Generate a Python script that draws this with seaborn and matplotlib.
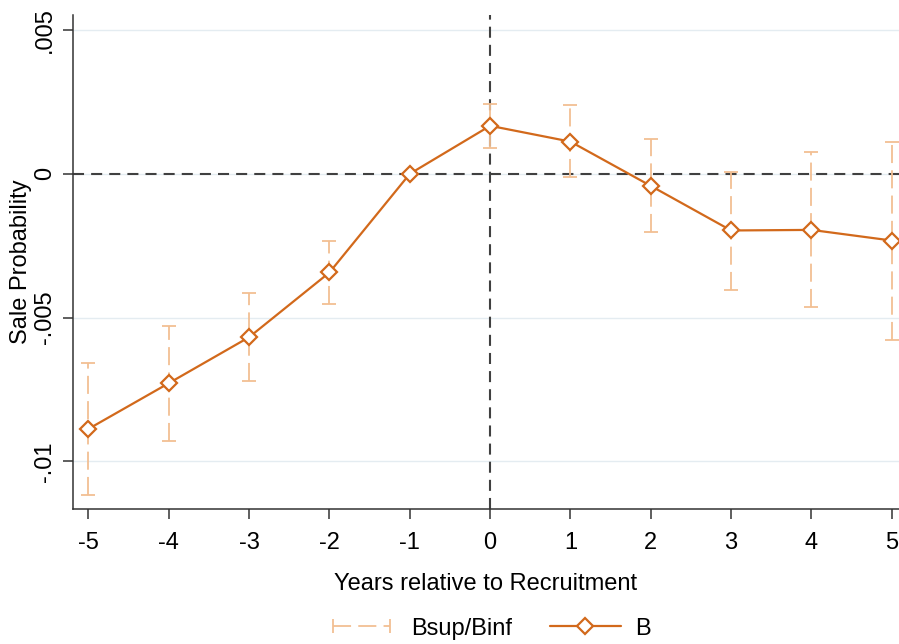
import matplotlib
matplotlib.use("Agg")
import matplotlib.pyplot as plt
import seaborn as sns
import pandas as pd
from matplotlib.lines import Line2D
from matplotlib.legend_handler import HandlerLine2D

# event-time coefficients with confidence bounds
years = [-5, -4, -3, -2, -1, 0, 1, 2, 3, 4, 5]
coef = [-0.00887, -0.00728, -0.00568, -0.00343, 0.0, 0.00167, 0.00112,
        -0.00042, -0.00197, -0.00195, -0.00232]
upper = [-0.00657, -0.00529, -0.00415, -0.00232, 0.0, 0.00244, 0.00240,
         0.00121, 0.00008, 0.00075, 0.00110]
lower = [-0.01117, -0.00929, -0.00720, -0.00453, 0.0, 0.00089, -0.00011,
         -0.00201, -0.00404, -0.00464, -0.00578]
yticks = [0.005, 0, -0.005, -0.01]
ytick_labels = [".005", "0", "-.005", "-.01"]

df = pd.DataFrame({"year": years, "B": coef, "sup": upper, "inf": lower})

sns.set_theme(style="white")
plt.rcParams["font.family"] = ["Liberation Sans", "DejaVu Sans"]
plt.rcParams["text.color"] = "black"
plt.rcParams["axes.labelcolor"] = "black"
plt.rcParams["xtick.color"] = "black"
plt.rcParams["ytick.color"] = "black"

main_col = "#d2691b"
ci_col = "#f2bf93"
fs = 17

fig = plt.figure(figsize=(8.99, 6.44), dpi=100)
ax = fig.add_axes([0.081, 0.209, 0.919, 0.768])

# grid + reference lines
for yt in yticks:
    ax.axhline(yt, color="#e4ecf1", lw=1.0, zorder=0)
ax.axhline(0, color="#404040", lw=1.5, ls=(0, (5.3, 3.4)), zorder=1)
ax.axvline(0, color="#404040", lw=1.5, ls=(0, (5.3, 3.4)), zorder=1)

# confidence bars
ci = df[df["year"] != -1]
eb = ax.errorbar(ci["year"], ci["B"],
                 yerr=[ci["B"] - ci["inf"], ci["sup"] - ci["B"]],
                 fmt="none", ecolor=ci_col, elinewidth=1.3, capsize=5,
                 capthick=1.3, zorder=2)
eb[2][0].set_linestyle((0, (10, 4)))

sns.lineplot(data=df, x="year", y="B", ax=ax, color=main_col, lw=1.6,
             marker="D", markersize=8, markerfacecolor="white",
             markeredgecolor=main_col, markeredgewidth=1.6, zorder=3)

ax.set_xlim(-5.195, 5.09)
ax.set_ylim(-0.01167, 0.00553)
ax.set_xticks(years)
ax.set_xticklabels([str(y) for y in years])
ax.set_yticks(yticks)
ax.set_yticklabels(ytick_labels, rotation=90, va="center")
ax.tick_params(axis="both", direction="out", length=7, width=1.1,
               color="#333333", labelsize=fs, pad=5)
ax.tick_params(axis="x", pad=9)
ax.tick_params(axis="both", which="both", bottom=True, left=True)

for s in ["top", "right"]:
    ax.spines[s].set_visible(False)
for s in ["left", "bottom"]:
    ax.spines[s].set_color("#333333")
    ax.spines[s].set_linewidth(1.1)

ax.set_xlabel("Years relative to Recruitment", fontsize=fs, labelpad=14)
ax.set_ylabel("Sale Probability", fontsize=fs)
ax.yaxis.set_label_coords(-0.049, 0.5)

h_ci = Line2D([], [], color=ci_col, lw=1.3, ls=(0, (10, 4)), marker="|",
              markersize=10, markeredgewidth=1.3)
h_b = Line2D([], [], color=main_col, lw=1.6, marker="D", markersize=8,
             markerfacecolor="white", markeredgecolor=main_col,
             markeredgewidth=1.6)
fig.legend([h_ci, h_b], ["Bsup/Binf", "B"], loc="center",
           bbox_to_anchor=(0.543, 0.024), ncol=2, frameon=False,
           fontsize=fs, handlelength=3.0, handletextpad=0.6,
           columnspacing=1.6,
           handler_map={h_ci: HandlerLine2D(numpoints=2),
                        h_b: HandlerLine2D(numpoints=1)})

fig.savefig("out.png", dpi=100)
